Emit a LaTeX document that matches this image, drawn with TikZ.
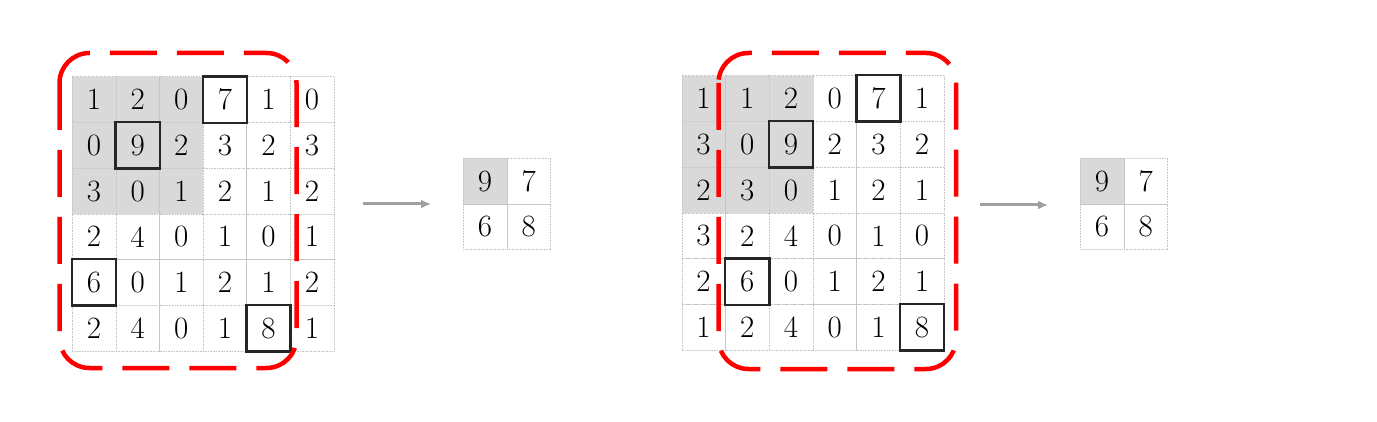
\documentclass[tikz,border=0pt]{standalone}
\usetikzlibrary{arrows.meta}
\begin{document}
\begin{tikzpicture}[x=1pt,y=-1pt,
  cell/.style={draw=gray!45, densely dotted, line width=0.6pt, minimum width=43.6pt, minimum height=45.7pt, inner sep=0pt, anchor=north west, font=\fontsize{31}{36}\selectfont, text=black},
  hit/.style={draw=black!85, line width=2.4pt},
  roi/.style={draw=red, line width=4.5pt, dash pattern=on 47pt off 20pt, rounded corners=30pt},
  flow/.style={draw=gray!75, line width=3pt, -{Latex[length=10pt,width=9pt]}}]
\useasboundingbox (0,0) rectangle (1377,422);
% left input grid
\foreach \row [count=\r from 0] in {{1,2,0,7,1,0},{0,9,2,3,2,3},{3,0,1,2,1,2},{2,4,0,1,0,1},{6,0,1,2,1,2},{2,4,0,1,8,1}}{
  \foreach \v [count=\c from 0] in \row {
    \pgfmathparse{(\r<3 && \c<3) ? "gray!30" : "white"}\edef\fc{\pgfmathresult}
    \node[cell, fill=\fc] (L-\r-\c) at ({72+43.6*\c},{76.5+45.7*\r}) {\v};
  }
}
% right input grid
\foreach \row [count=\r from 0] in {{1,1,2,0,7,1},{3,0,9,2,3,2},{2,3,0,1,2,1},{3,2,4,0,1,0},{2,6,0,1,2,1},{1,2,4,0,1,8}}{
  \foreach \v [count=\c from 0] in \row {
    \pgfmathparse{(\r<3 && \c<3) ? "gray!30" : "white"}\edef\fc{\pgfmathresult}
    \node[cell, fill=\fc] (R-\r-\c) at ({681.5+43.7*\c},{75.3+45.8*\r}) {\v};
  }
}
% highlighted maxima
\foreach \n in {L-0-3,L-1-1,L-4-0,L-5-4,R-0-4,R-1-2,R-4-1,R-5-5}{
  \draw[hit] (\n.north west) rectangle (\n.south east);
}
% output grids
\node[cell, fill=gray!30] (A-0-0) at (463,158) {9};
\node[cell] (A-0-1) at (506.6,158) {7};
\node[cell] (A-1-0) at (463,203.7) {6};
\node[cell] (A-1-1) at (506.6,203.7) {8};
\node[cell, fill=gray!30] (B-0-0) at (1080,158) {9};
\node[cell] (B-0-1) at (1123.6,158) {7};
\node[cell] (B-1-0) at (1080,203.7) {6};
\node[cell] (B-1-1) at (1123.6,203.7) {8};
% regions
\draw[roi] (59.5,53) rectangle (296.5,368);
\draw[roi] (718.5,53) rectangle (956,369);
% arrows
\coordinate (a1) at (363,204);
\coordinate (a2) at (431,204);
\coordinate (b1) at (980,205);
\coordinate (b2) at (1048,205);
\draw[flow] (a1) -- (a2);
\draw[flow] (b1) -- (b2);
\end{tikzpicture}
\end{document}
